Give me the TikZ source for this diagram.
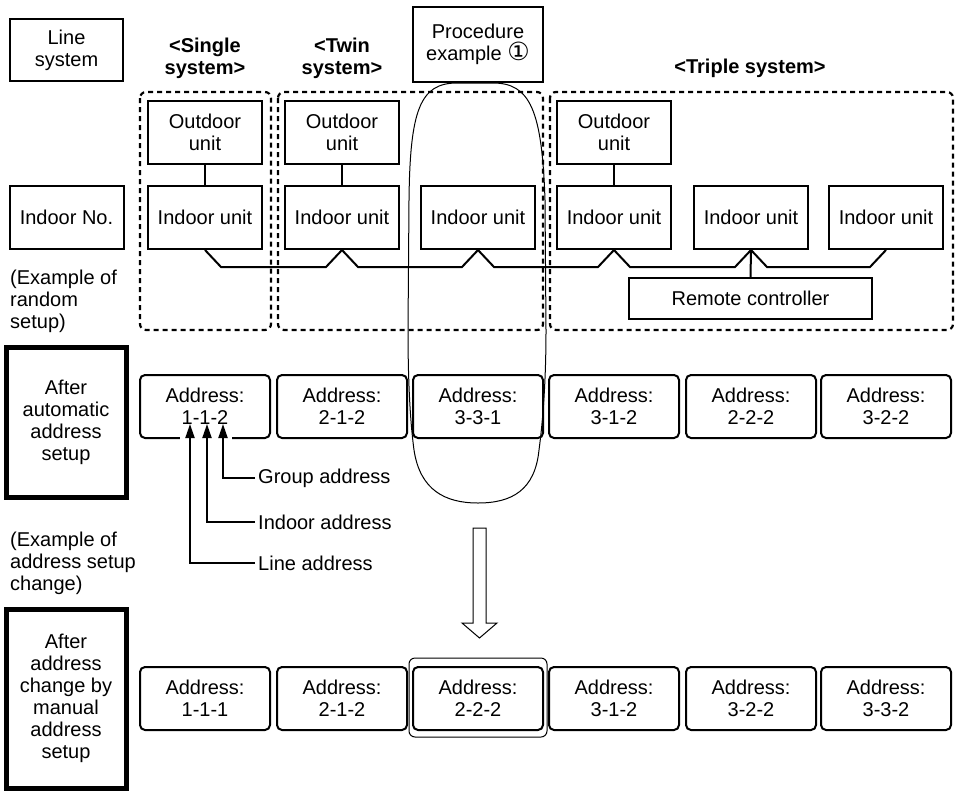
\documentclass[tikz,border=0pt]{standalone}
\usepackage{fontspec}
\setmainfont{Liberation Sans}
\newfontfamily\symfont{DejaVu Sans}
\usetikzlibrary{calc,arrows.meta}

\begin{document}
\begin{tikzpicture}[x=1pt,y=-1pt,
    font=\fontsize{20}{22}\selectfont,
    unit/.style={draw, line width=2pt, minimum width=114pt, minimum height=63pt, align=center, inner sep=0pt},
    addr/.style={draw, line width=2pt, rounded corners=5pt, minimum width=130pt, minimum height=63pt, align=center, inner sep=0pt},
    rowlabel/.style={draw, line width=5pt, minimum width=120pt, align=center, inner sep=0pt},
    sysbox/.style={line width=2.2pt, dash pattern=on 5pt off 4pt, rounded corners=6pt},
    wire/.style={line width=2pt},
    ptr/.style={line width=2pt, -{Triangle[length=14pt,width=9pt]}},
    heading/.style={font=\fontsize{20}{22}\selectfont\bfseries, align=center},
    note/.style={align=left, anchor=west, inner sep=0pt}]
    \useasboundingbox (0,0) rectangle (958,790);

    % Row labels on the left
    \node[unit, minimum width=113pt, minimum height=62pt] (linesys) at (66.5,50) {Line\\system};
    \node[unit] (indoorno) at (66.5,217.5) {Indoor No.};
    \node[note] (random) at (10,301) {(Example of\\random\\setup)};
    \node[rowlabel, minimum height=150pt] (auto) at (66,422) {After\\automatic\\address\\setup};
    \node[note] (change) at (10,563) {(Example of\\address setup\\change)};
    \node[rowlabel, minimum height=179pt] (manual) at (66,698.5) {After\\address\\change by\\manual\\address\\setup};

    % System headings
    \node[heading] (single) at (205,58) {<Single\\system>};
    \node[heading] (twin) at (342,58) {<Twin\\system>};
    \node[heading] (triple) at (750,68) {<Triple system>};
    \node[unit, minimum width=130pt, minimum height=75pt] (proc) at (478,44.5) {Procedure\\example {\symfont\fontsize{25}{22}\selectfont ①}};

    % Dashed system frames
    \draw[sysbox] (140,92) rectangle (271,330);
    \draw[sysbox] (278,92) rectangle (543,330);
    \draw[sysbox] (550,92) rectangle (953,330);

    % Outdoor and indoor units
    \node[unit] (out1) at (205,132) {Outdoor\\unit};
    \node[unit] (out2) at (342,132) {Outdoor\\unit};
    \node[unit] (out4) at (614,132) {Outdoor\\unit};
    \foreach \i/\x in {1/205,2/342,3/478,4/614,5/751,6/886}
        \node[unit] (in\i) at (\x,217.5) {Indoor unit};
    \node[unit, minimum width=243pt, minimum height=41pt] (rc) at (750.5,298.5) {Remote controller};

    \draw[wire] (out1) -- (in1);
    \draw[wire] (out2) -- (in2);
    \draw[wire] (out4) -- (in4);
    \foreach \a/\b in {in1/in2,in2/in3,in3/in4,in4/in5,in5/in6}
        \draw[wire] (\a.south) -- ++(16,17) -- ($(\b.south)+(-16,17)$) -- (\b.south);
    \draw[wire] (in5.south) -- (rc.north);

    % Addresses
    \foreach \i/\x/\a/\b in {1/205/1-1-2/1-1-1,2/342/2-1-2/2-1-2,3/478/3-3-1/2-2-2,4/614/3-1-2/3-1-2,5/751/2-2-2/3-2-2,6/886/3-2-2/3-3-2} {
        \node[addr] (ad\i) at (\x,406.5) {Address:\\\a};
        \node[addr] (am\i) at (\x,698.5) {Address:\\\b};
    }
    \draw[line width=1pt, rounded corners=6pt] ($(am3.north west)+(-3,-8)$) rectangle ($(am3.south east)+(3,6)$);

    % Procedure example outline
    \draw[line width=1pt] (457,83) .. controls (420,83) and (410,110) .. (409,200)
        -- (408,330) .. controls (408,380) and (410,420) .. (414,450)
        .. controls (420,490) and (445,503) .. (478,503)
        .. controls (512,503) and (535,490) .. (539,450)
        .. controls (543,420) and (546,380) .. (546,330)
        -- (545,200) .. controls (542,110) and (530,83) .. (493,83) -- cycle;

    % Hollow arrow
    \draw[line width=1pt] (473,528) -- (486,528) -- (486,623) -- (497,623) -- (479.5,638)
        -- (462,623) -- (473,623) -- cycle;

    % Address parts
    \node[note] (grp) at (258,478) {Group address};
    \node[note] (ind) at (258,522) {Indoor address};
    \node[note] (lin) at (258,563) {Line address};
    \coordinate (tipG) at (223,424);
    \coordinate (tipI) at (207,424);
    \coordinate (tipL) at (190,424);
    \fill[white] (180,433) rectangle (232,443);
    \draw[ptr] ([xshift=-3pt]grp.west) -| (tipG);
    \draw[ptr] ([xshift=-3pt]ind.west) -| (tipI);
    \draw[ptr] ([xshift=-3pt]lin.west) -| (tipL);
\end{tikzpicture}
\end{document}
